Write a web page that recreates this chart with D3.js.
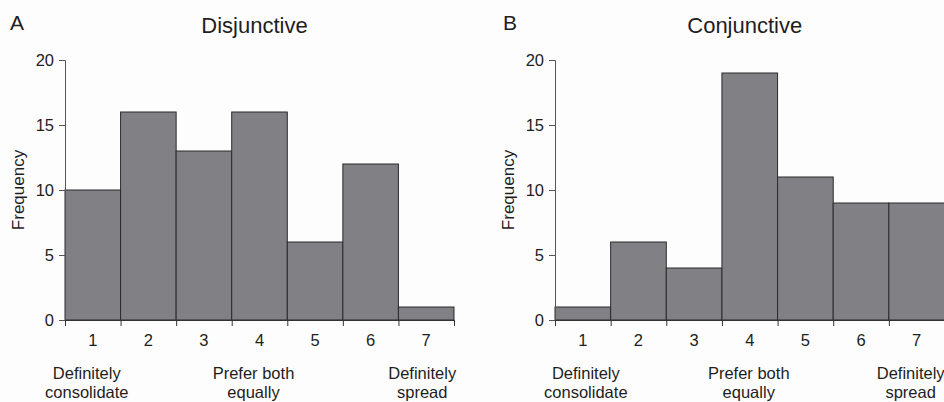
<!DOCTYPE html>
<html>
<head>
<meta charset="utf-8">
<script src="https://cdn.jsdelivr.net/npm/d3@7.9.0/dist/d3.min.js"></script>
<style>
  body { margin: 0; background: #fdfdfd; }
  svg { display: block; font-family: "Liberation Sans", Arial, sans-serif; }
  text { fill: #1e1e1e; }
</style>
</head>
<body>
<svg width="944" height="402"></svg>
<script>
// ratings on the 1-7 scale
const categories = ['1', '2', '3', '4', '5', '6', '7'];
const disjunctive = [10, 16, 13, 16, 6, 12, 1];
const conjunctive = [1, 6, 4, 19, 11, 9, 9];
const yTicks = [0, 5, 10, 15, 20];
const anchorLabels = [
  { at: 1, lines: ['Definitely', 'consolidate'] },
  { at: 4, lines: ['Prefer both', 'equally'] },
  { at: 7, lines: ['Definitely', 'spread'] }
];

const svg = d3.select('svg');

function drawPanel(letter, title, values, left, right, letterX, freqX, labelShift) {
  const g = svg.append('g');

  let x = d3.scaleBand().domain(categories).range([left, right]).padding(0);
  let y = d3.scaleLinear().domain([0, 20]).range([320, 60]);

  // bars
  g.selectAll('rect.bar')
    .data(values)
    .join('rect')
    .attr('class', 'bar')
    .attr('x', (d, i) => x(categories[i]))
    .attr('y', d => y(d))
    .attr('width', x.bandwidth())
    .attr('height', d => y(0) - y(d))
    .attr('fill', '#808085')
    .attr('stroke', '#2b2b2b')
    .attr('stroke-width', 1);

  // y axis
  const yAxis = g.append('g')
    .attr('transform', `translate(${left},0)`)
    .call(d3.axisLeft(y).tickValues(yTicks).tickSize(6).tickPadding(5));
  yAxis.select('.domain').attr('stroke', '#555');
  yAxis.selectAll('.tick line').attr('stroke', '#555');
  yAxis.selectAll('text').attr('font-size', 16.5).attr('fill', '#1e1e1e');

  // x axis: ticks sit on the bin edges, labels in the bin centres
  const edges = d3.scaleLinear().domain([0, categories.length]).range([left, right]);
  const xAxis = g.append('g')
    .attr('transform', `translate(0,${y(0)})`)
    .call(d3.axisBottom(edges).tickValues(d3.range(categories.length + 1)).tickSize(6).tickFormat(''));
  xAxis.select('.domain').attr('stroke', '#333');
  xAxis.selectAll('.tick line').attr('stroke', '#333');

  g.selectAll('text.cat')
    .data(categories)
    .join('text')
    .attr('class', 'cat')
    .attr('x', d => x(d) + x.bandwidth() / 2)
    .attr('y', 346)
    .attr('text-anchor', 'middle')
    .attr('font-size', 16.5)
    .text(d => d);

  // anchor descriptions under the scale
  anchorLabels.forEach((a, i) => {
    const cx = x(String(a.at)) + x.bandwidth() / 2 + labelShift[i];
    const t = g.append('text')
      .attr('text-anchor', 'middle')
      .attr('font-size', 16.5);
    a.lines.forEach((line, k) => {
      t.append('tspan')
        .attr('x', cx)
        .attr('y', 379 + k * 19)
        .text(line);
    });
  });

  // y label
  g.append('text')
    .attr('transform', `translate(${freqX},190) rotate(-90)`)
    .attr('text-anchor', 'middle')
    .attr('font-size', 17)
    .text('Frequency');

  // title and panel letter
  g.append('text')
    .attr('x', (left + right) / 2 - 5)
    .attr('y', 33)
    .attr('text-anchor', 'middle')
    .attr('font-size', 22)
    .text(title);

  g.append('text')
    .attr('x', letterX)
    .attr('y', 30)
    .attr('font-size', 21)
    .text(letter);
}

drawPanel('A', 'Disjunctive', disjunctive, 65, 454, 10, 24, [-6, -6, -4]);
drawPanel('B', 'Conjunctive', conjunctive, 555, 944.5, 503, 514, [3, -1, -6]);
</script>
</body>
</html>
